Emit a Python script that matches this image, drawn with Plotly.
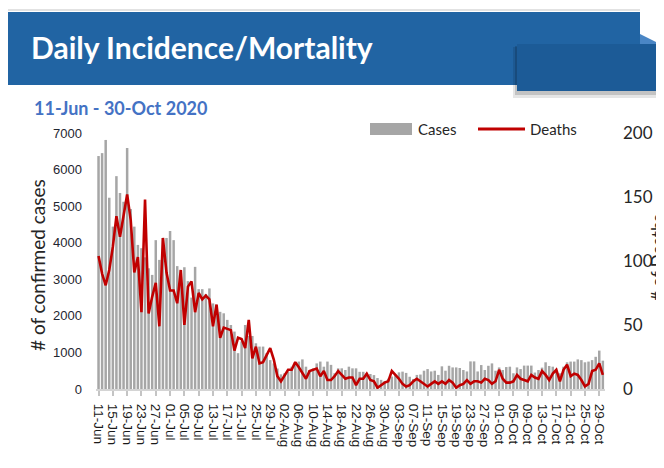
import plotly.graph_objects as go
import pandas as pd

# ---------------- data ----------------
start_date = "2020-06-11"
cases = [6370, 6450, 6810, 5230, 4440, 5820, 5360, 5120, 6590, 4920,
         4440, 3940, 3850, 3600, 3300, 3120, 4070, 3530, 4130, 4130,
         4320, 4070, 3360, 3250, 3330, 2950, 2500, 3340, 2730, 2730,
         2600, 2750, 2340, 2200, 2110, 2070, 1890, 1750, 1570, 980,
         1300, 1750, 1450, 1450, 1250, 1160, 1160, 980, 790, 700,
         560, 400, 430, 470, 610, 700, 750, 810, 610, 520,
         565, 700, 750, 610, 750, 660, 430, 565, 565, 520,
         610, 565, 565, 470, 470, 430, 410, 380, 300, 250,
         220, 280, 340, 380, 455, 475, 440, 335, 275, 385,
         395, 500, 545, 480, 500, 385, 620, 500, 635, 590,
         590, 575, 520, 480, 755, 755, 480, 655, 520, 635,
         700, 500, 590, 520, 600, 610, 430, 590, 545, 640,
         640, 640, 450, 520, 585, 730, 630, 610, 520, 430,
         610, 730, 750, 750, 810, 790, 730, 750, 790, 880,
         1050, 775]
deaths = [104, 90, 81, 93, 111, 135, 119, 135, 152, 132,
          91, 103, 60, 148, 59, 72, 83, 49, 118, 91,
          77, 77, 67, 93, 50, 80, 84, 60, 75, 70,
          73, 70, 49, 66, 40, 48, 47, 46, 30, 40,
          39, 32, 54, 24, 33, 20, 21, 27, 32, 23,
          10, 6, 11, 15, 15, 21, 17, 13, 8, 14,
          15, 16, 10, 14, 7, 7, 10, 14, 11, 8,
          9, 9, 3, 8, 8, 12, 7, 6, 1, 3,
          5, 6, 14, 11, 8, 4, 2, 3, 6, 8,
          6, 4, 2, 4, 6, 4, 6, 4, 7, 5,
          1, 3, 4, 7, 4, 6, 6, 5, 8, 7,
          4, 6, 15, 8, 5, 5, 6, 11, 8, 7,
          6, 11, 9, 8, 14, 11, 7, 12, 15, 6,
          15, 19, 10, 12, 11, 7, 2, 4, 14, 15,
          20, 11]
tick_step_days = 4
title_text = "Daily Incidence/Mortality"
subtitle_text = "11-Jun - 30-Oct 2020"
left_title = "# of confirmed cases"
right_title = "# of Deaths"

dates = pd.date_range(start_date, periods=len(cases), freq="D")
x_vals = [d.strftime("%Y-%m-%d") for d in dates]
tick_dates = dates[::tick_step_days]
tickvals = [d.strftime("%Y-%m-%d") for d in tick_dates]
ticktext = [d.strftime("%d-%b") for d in tick_dates]

# ---------------- layout geometry ----------------
# The page body has an 8px margin, so the figure starts at (8, 8) of the window.
OFF = 8
SCR_W, SCR_H = 664, 468
PLOT_X0, PLOT_X1 = 96, 605      # screen px of plot area
PLOT_Y0, PLOT_Y1 = 133, 389
W, H = SCR_W - OFF, SCR_H - OFF
L = PLOT_X0 - OFF
T = PLOT_Y0 - OFF
PW = PLOT_X1 - PLOT_X0
PH = PLOT_Y1 - PLOT_Y0
R = W - L - PW
B = H - T - PH


def px(x):
    return (x - PLOT_X0) / PW


def py(y):
    return (PLOT_Y1 - y) / PH


fig = go.Figure()
fig.add_trace(go.Bar(x=x_vals, y=cases, name="Cases",
                     marker=dict(color="#A6A6A6", line=dict(width=0)),
                     yaxis="y", showlegend=False))
fig.add_trace(go.Scatter(x=x_vals, y=deaths, name="Deaths", mode="lines",
                         line=dict(color="#C00000", width=2.6),
                         yaxis="y2", showlegend=False))

shapes = []
# slide top border line
shapes.append(dict(type="line", xref="paper", yref="paper",
                   x0=px(8), x1=px(640), y0=py(10), y1=py(10),
                   line=dict(color="#D8D8D8", width=1.5)))
# blue header bar
shapes.append(dict(type="rect", xref="paper", yref="paper",
                   x0=px(0), x1=px(640), y0=py(85), y1=py(12),
                   fillcolor="#2164A3", line=dict(width=0)))
# light fold at top right
shapes.append(dict(type="path", xref="paper", yref="paper",
                   path=f"M {px(640)},{py(34)} L {px(664)},{py(46)} L {px(640)},{py(46)} Z",
                   fillcolor="#4A86C5", line=dict(width=0)))
# shadow of dark tab
shapes.append(dict(type="rect", xref="paper", yref="paper",
                   x0=px(513), x1=px(664), y0=py(98), y1=py(47),
                   fillcolor="rgba(0,0,0,0.10)", line=dict(width=0)))
shapes.append(dict(type="rect", xref="paper", yref="paper",
                   x0=px(515), x1=px(664), y0=py(95), y1=py(46),
                   fillcolor="rgba(0,0,0,0.15)", line=dict(width=0)))
# dark tab
shapes.append(dict(type="rect", xref="paper", yref="paper",
                   x0=px(517), x1=px(664), y0=py(91), y1=py(44),
                   fillcolor="#1C5B97", line=dict(width=0)))
# legend marks
shapes.append(dict(type="rect", xref="paper", yref="paper",
                   x0=px(370), x1=px(412), y0=py(135), y1=py(123),
                   fillcolor="#A6A6A6", line=dict(width=0)))
shapes.append(dict(type="line", xref="paper", yref="paper",
                   x0=px(478), x1=px(525), y0=py(129), y1=py(129),
                   line=dict(color="#C00000", width=3)))

annotations = [
    dict(text=title_text, xref="paper", yref="paper", x=px(29), y=py(47),
         xanchor="left", yanchor="middle", showarrow=False,
         font=dict(family="Lato", size=30, color="white", weight="bold")),
    dict(text=subtitle_text, xref="paper", yref="paper", x=px(32), y=py(108),
         xanchor="left", yanchor="middle", showarrow=False,
         font=dict(family="Lato", size=18, color="#4472C4", weight="bold")),
    dict(text="Cases", xref="paper", yref="paper", x=px(416), y=py(129),
         xanchor="left", yanchor="middle", showarrow=False,
         font=dict(family="Lato", size=15, color="#262626")),
    dict(text="Deaths", xref="paper", yref="paper", x=px(528), y=py(129),
         xanchor="left", yanchor="middle", showarrow=False,
         font=dict(family="Lato", size=15, color="#262626")),
    dict(text=left_title, xref="paper", yref="paper", x=px(37), y=py(265),
         xanchor="center", yanchor="middle", textangle=-90, showarrow=False,
         font=dict(family="Lato", size=19, color="#262626")),
    dict(text=right_title, xref="paper", yref="paper", x=px(657), y=py(258),
         xanchor="center", yanchor="middle", textangle=-90, showarrow=False,
         font=dict(family="Lato", size=17, color="#262626")),
]

fig.update_layout(
    width=W, height=H,
    margin=dict(l=L, r=R, t=T, b=B, pad=0),
    paper_bgcolor="white", plot_bgcolor="white",
    bargap=0.3,
    shapes=shapes, annotations=annotations,
    xaxis=dict(type="date", range=["2020-06-10 07:00", "2020-10-30 14:30"],
               tickvals=tickvals, ticktext=ticktext, tickangle=90,
               showgrid=False, zeroline=False,
               showline=True, linecolor="#D4D4D4", linewidth=2,
               ticks="outside", ticklen=5, tickwidth=1.5, tickcolor="#C4C4C4",
               ticklabelstandoff=5,
               tickfont=dict(family="Liberation Sans", size=13.5, color="#1A1A1A")),
    yaxis=dict(range=[0, 7000], dtick=1000, showgrid=False, zeroline=False,
               showline=False, ticks="", ticklabelstandoff=13,
               tickfont=dict(family="Liberation Sans", size=13, color="#1F2630")),
    yaxis2=dict(range=[0, 200], dtick=50, overlaying="y", side="right",
                showgrid=False, zeroline=False, showline=False, ticks="",
                ticklabelstandoff=17,
                tickfont=dict(family="Lato", size=17, color="#262626")),
)

fig.write_html("out.html")
